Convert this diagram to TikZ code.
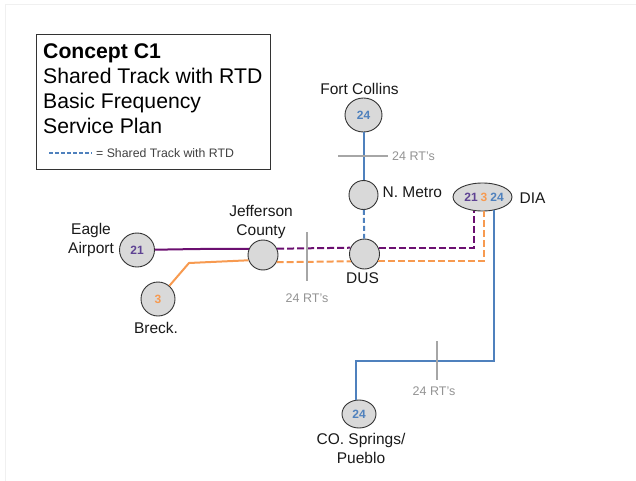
\documentclass[tikz,border=0pt]{standalone}
\usepackage{fontspec}
\setmainfont{Liberation Sans}
\usetikzlibrary{positioning,shapes.geometric}
\definecolor{linepurple}{HTML}{6B0F70}
\definecolor{lineorange}{HTML}{F79A50}
\definecolor{lineblue}{HTML}{4F81BD}
\definecolor{tickgray}{HTML}{A6A6A6}
\definecolor{stationgray}{HTML}{D9D9D9}
\tikzset{
  station/.style={ellipse,draw=black!80,fill=stationgray,inner sep=0pt,line width=0.9pt},
  stationlabel/.style={align=center,inner sep=0pt,text=black!90,font=\fontsize{15.5}{19}\selectfont},
  rtlabel/.style={inner sep=0pt,text=gray!85,font=\fontsize{12.5}{14}\selectfont},
  routenum/.style={font=\fontsize{12}{14}\selectfont\bfseries},
  purpleline/.style={draw=linepurple,line width=2pt},
  orangeline/.style={draw=lineorange,line width=2pt},
  blueline/.style={draw=lineblue,line width=2pt},
  shared/.style={dash pattern=on 7pt off 3pt},
  tick/.style={draw=tickgray,line width=2pt}
}
\begin{document}
\begin{tikzpicture}[x=1pt,y=-1pt,node distance=3pt]
        \useasboundingbox (0,0) rectangle (636,481);
        \draw[black!6] (5,481) -- (5,4) -- (636,4);
        \node[draw=black!80,line width=0.8pt,minimum width=234pt,minimum height=135pt,anchor=north west] (legend) at (36,34) {};
        \node[anchor=north west,align=left,inner sep=0pt,font=\fontsize{21.2}{25}\selectfont] (title) at (43,43)
          {\textbf{Concept C1}\\Shared Track with RTD\\Basic Frequency\\Service Plan};
        \node[rtlabel,text=black!75,font=\fontsize{12.3}{14}\selectfont,anchor=west] (keytext) at (96,153) {= Shared Track with RTD};
        \coordinate (keystart) at (49,153);
        % stations
        \node[station,minimum width=37pt,minimum height=34pt] (fort) at (363.5,115) {};
        \node[station,minimum width=29pt,minimum height=29pt] (metro) at (363.5,195) {};
        \node[station,minimum width=30pt,minimum height=30pt] (dus) at (364.5,254) {};
        \node[station,minimum width=59pt,minimum height=28pt] (dia) at (482.5,197) {};
        \node[station,minimum width=35pt,minimum height=34pt] (eagle) at (137,250) {};
        \node[station,minimum width=34pt,minimum height=34pt] (breck) at (158,299) {};
        \node[station,minimum width=30pt,minimum height=30pt] (jeff) at (263,255) {};
        \node[station,minimum width=34pt,minimum height=28pt] (cos) at (359,414) {};
        % route numbers
        \node[routenum,text=lineblue] at (fort) {24};
        \node[routenum,text=linepurple!55!lineblue] at (eagle) {21};
        \node[routenum,text=lineorange] at (breck) {3};
        \node[routenum,text=lineblue] at (cos) {24};
        \node[routenum,text=linepurple!55!lineblue] at (471,197) {21};
        \node[routenum,text=lineorange] at (484,197) {3};
        \node[routenum,text=lineblue] at (497,197) {24};
        % names
        \node[stationlabel,above=3pt of fort,xshift=-4pt] (fortname) {Fort Collins};
        \node[stationlabel,right=4pt of metro,yshift=3pt] (metroname) {N. Metro};
        \node[stationlabel,below=3pt of dus,xshift=-2pt] (dusname) {DUS};
        \node[stationlabel,right=7pt of dia,yshift=-1pt] (dianame) {DIA};
        \node[stationlabel,left=5pt of eagle,yshift=10pt] (eaglename) {Eagle\\Airport};
        \node[stationlabel,below=6pt of breck,xshift=-2pt] (breckname) {Breck.};
        \node[stationlabel,above=1pt of jeff,xshift=-2pt] (jeffname) {Jefferson\\County};
        \node[stationlabel,below=5pt of cos,xshift=2pt] (cosname) {CO. Springs/\\Pueblo};
        % bends and free ends
        \coordinate (eaglebend) at (198,249);
        \coordinate (breckbend) at (189,263);
        \coordinate (cosbend) at (356,361);
        \coordinate (tickatop) at (338,156);
        \coordinate (tickabot) at (388,156);
        \coordinate (tickbtop) at (307,232);
        \coordinate (tickbbot) at (307,281);
        \coordinate (tickctop) at (437,341);
        \coordinate (tickcbot) at (437,380);
        \node[rtlabel,anchor=west] (rta) at (392,156) {24 RT's};
        \node[rtlabel,below=13pt of tickbbot] (rtb) {24 RT's};
        \node[rtlabel,below=7pt of tickcbot,xshift=-3pt] (rtc) {24 RT's};
        % routes
        \path[purpleline] (eagle) -- (eaglebend) -- (jeff.157);
        \path[orangeline] (breck) -- (breckbend) -- (jeff.200);
        \path[blueline] (fort) -- (metro);
        \path[blueline,shared,dash pattern=on 5pt off 3pt] (metro) -- (dus);
        \path[purpleline,shared] (jeff.24) -- (dus.156);
        \path[orangeline,shared] (jeff.-28) -- (dus.208);
        \path[purpleline,shared] (dus.24) -| (dia.-122);
        \path[orangeline,shared] (dus.-28) -| (dia.-85);
        \path[blueline] (dia.-48) |- (cosbend) -- (cosbend |- cos.north);
        \draw[tick] (tickatop) -- (tickabot);
        \draw[tick] (tickbtop) -- (tickbbot);
        \draw[tick] (tickctop) -- (tickcbot);
        \path[blueline,line width=1.6pt,dash pattern=on 4pt off 2pt,shorten >=4pt] (keystart) -- (keytext.west);
      \end{tikzpicture}
\end{document}
